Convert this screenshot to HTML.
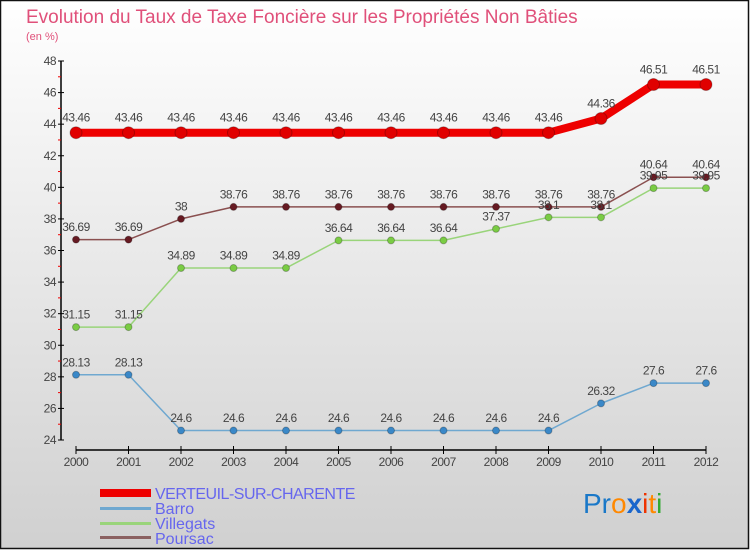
<!DOCTYPE html>
<html><head><meta charset="utf-8"><style>
body{margin:0;}
#wrap{position:relative;width:750px;height:550px;overflow:hidden;}
svg text{font-family:"Liberation Sans",sans-serif;}
</style></head><body>
<div id="wrap">
<svg id="chart" width="750" height="550">
<defs><linearGradient id="bg" x1="0" y1="0" x2="0" y2="1"><stop offset="0" stop-color="#ffffff"/><stop offset="1" stop-color="#d0d0d0"/></linearGradient></defs>
<rect x="0.5" y="0.5" width="748" height="548" fill="url(#bg)" stroke="#111" stroke-width="1.5"/>
<text x="26" y="23" font-size="19" fill="#e0507a">Evolution du Taux de Taxe Foncière sur les Propriétés Non Bâties</text>
<text x="26" y="40" font-size="11" fill="#e0507a">(en %)</text>
<g id="axes"></g><g id="series"></g>
<g font-size="16">
<rect x="100" y="489" width="51" height="8" fill="#ee0000"/>
<text x="155" y="499" fill="#6666ee" letter-spacing="-0.5">VERTEUIL-SUR-CHARENTE</text>
<rect x="100" y="507" width="51" height="3" fill="#6fa8d0"/>
<text x="155" y="514" fill="#6666ee">Barro</text>
<rect x="100" y="522" width="51" height="3" fill="#99d47a"/>
<text x="155" y="529" fill="#6666ee">Villegats</text>
<rect x="100" y="536" width="51" height="3" fill="#8a6060"/>
<text x="155" y="544" fill="#6666ee">Poursac</text>
</g>
<g font-size="28" font-family="Liberation Sans">
<text x="583" y="513"><tspan fill="#1a78c8">Pr</tspan><tspan fill="#ff8800">o</tspan><tspan fill="#1a66cc" font-weight="bold">x</tspan><tspan fill="#ee3300">i</tspan><tspan fill="#ff8800">t</tspan><tspan fill="#33aa33">i</tspan></text>
</g>
</svg></div>
<script>
const years=[2000,2001,2002,2003,2004,2005,2006,2007,2008,2009,2010,2011,2012];
const yTicks=[24,26,28,30,32,34,36,38,40,42,44,46,48];
const verteuil=[43.46,43.46,43.46,43.46,43.46,43.46,43.46,43.46,43.46,43.46,44.36,46.51,46.51];
const barro=[28.13,28.13,24.6,24.6,24.6,24.6,24.6,24.6,24.6,24.6,26.32,27.6,27.6];
const villegats=[31.15,31.15,34.89,34.89,34.89,36.64,36.64,36.64,37.37,38.1,38.1,39.95,39.95];
const poursac=[36.69,36.69,38,38.76,38.76,38.76,38.76,38.76,38.76,38.76,38.76,40.64,40.64];
const NS='http://www.w3.org/2000/svg';
const x0=76,dx=52.5,yBase=440,yTop=61,yMin=24,yMax=48;
const X=i=>x0+i*dx;
const Y=v=>yBase-(v-yMin)/(yMax-yMin)*(yBase-yTop);
function mk(tag,attrs,parent,txt){const e=document.createElementNS(NS,tag);for(const k in attrs)e.setAttribute(k,attrs[k]);if(txt!==undefined)e.textContent=txt;parent.appendChild(e);return e;}
const axes=document.getElementById('axes');
let e=mk('line',{x1:61,y1:yTop,x2:61,y2:yBase,stroke:'#000','stroke-width':1.5},axes);


yTicks.forEach((t,i)=>{
 mk('line',{x1:58,x2:64,y1:Y(t),y2:Y(t),stroke:'#000'},axes);
 if(i<yTicks.length-1)mk('line',{x1:58,x2:61,y1:Y(t+1),y2:Y(t+1),stroke:'#e00'},axes);
 const l=mk('text',{x:56,y:Y(t)+4,'text-anchor':'end','font-size':12,fill:'#444','letter-spacing':'-0.5'},axes,t);
 
 
});
e=mk('line',{x1:X(0),y1:450,x2:X(12),y2:450,stroke:'#000','stroke-width':1.5},axes);


years.forEach((yr,i)=>{
 mk('line',{x1:X(i),x2:X(i),y1:446,y2:454,stroke:'#000'},axes);
 const l=mk('text',{x:X(i),y:466,'text-anchor':'middle','font-size':12,fill:'#444','letter-spacing':'-0.5'},axes,yr);
 
 
});
const sg=document.getElementById('series');
function series(name,data,color,w,r,dot){
 const g=mk('g',{},sg);
 
 
 mk('polyline',{points:data.map((v,i)=>X(i)+','+Y(v)).join(' '),fill:'none',stroke:color,'stroke-width':w,'stroke-linejoin':'round'},g);
 data.forEach((v,i)=>{
  const c=mk('circle',{cx:X(i),cy:Y(v),r:r,fill:dot,stroke:'rgba(0,0,0,0.25)'},g);
  
  
  const t=mk('text',{x:X(i),y:Y(v)-(r+5),'text-anchor':'middle','font-size':12,fill:'#444','letter-spacing':'-0.5'},g,String(v));
  
  
 });
}
series('poursac',poursac,'#8a5050',1.5,3.5,'#661a22');
series('villegats',villegats,'#99d47a',1.5,3.5,'#7acc44');
series('barro',barro,'#6fa8d0',1.5,3.5,'#3a88c8');
series('verteuil',verteuil,'#ee0000',8,6,'#e00000');
</script>
</body></html>
